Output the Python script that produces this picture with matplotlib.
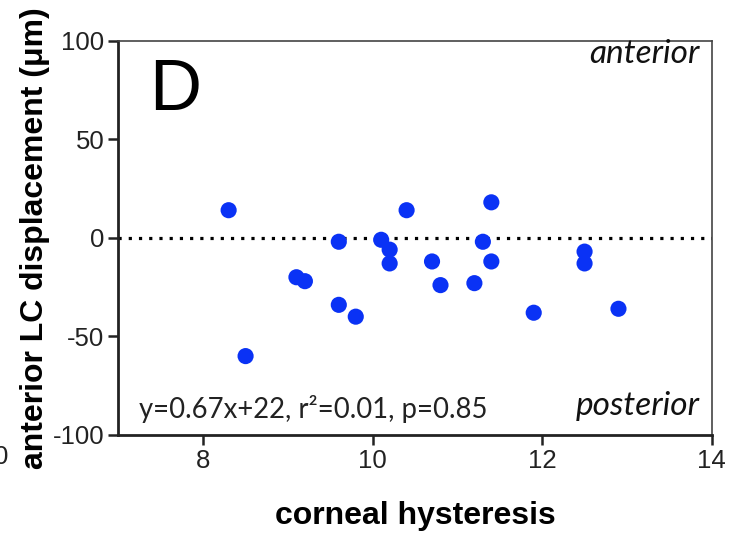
import numpy as np
import matplotlib.pyplot as plt

# corneal hysteresis vs anterior LC displacement
hysteresis = [8.3, 8.5, 9.1, 9.2, 9.6, 9.8, 9.6, 10.1, 10.2, 10.2, 10.4,
              10.7, 10.8, 11.2, 11.3, 11.4, 11.4, 11.9, 12.5, 12.5, 12.9]
displacement = [14, -60, -20, -22, -34, -40, -2, -1, -6, -13, 14,
                -12, -24, -23, -2, 18, -12, -38, -7, -13, -36]

x_ticks = [8, 10, 12, 14]
y_ticks = [-100, -50, 0, 50, 100]
stats_text = 'y=0.67x+22, r²=0.01, p=0.85'

plt.rcParams['font.family'] = ['Liberation Sans', 'DejaVu Sans']
plt.rcParams['axes.unicode_minus'] = False

fig = plt.figure(figsize=(7.46, 5.35), dpi=100)
ax = fig.add_axes([0.1588, 0.187, 0.7952, 0.737])

ax.axhline(0, color='black', linestyle=(0, (1, 2.2)), linewidth=2.3, zorder=1)
ax.scatter(hysteresis, displacement, s=135, color='#0a32f5', edgecolors='none', zorder=3)

ax.set_xlim(7, 14)
ax.set_ylim(-100, 100)
ax.set_xticks(x_ticks)
ax.set_yticks(y_ticks)
ax.tick_params(axis='both', direction='out', length=7, width=1.8, labelsize=18.5,
               color='#222222', labelcolor='#222222', pad=3)

for side in ['left', 'bottom']:
    ax.spines[side].set_linewidth(2)
    ax.spines[side].set_color('#222222')
for side in ['top', 'right']:
    ax.spines[side].set_linewidth(1.2)
    ax.spines[side].set_color('#444444')

ax.set_xlabel('corneal hysteresis', fontsize=23, fontweight='bold', labelpad=20)
ax.set_ylabel('anterior LC displacement (μm)', fontsize=23, fontweight='bold', labelpad=2)

# panel letter and direction annotations
ax.text(0.052, 0.955, 'D', transform=ax.transAxes, fontsize=52, ha='left', va='top')
ax.text(0.98, 0.943, 'anterior', transform=ax.transAxes, fontsize=24, style='italic',
        family='Lato', ha='right', va='baseline', color='#111111')
ax.text(0.98, 0.051, 'posterior', transform=ax.transAxes, fontsize=24, style='italic',
        family='Lato', ha='right', va='baseline', color='#111111')
ax.text(0.035, 0.043, stats_text, transform=ax.transAxes, fontsize=19.8,
        family='Lato', ha='left', va='baseline', color='#222222')

# tick label left over from the neighbouring panel
fig.text(-0.008, 0.146, '0', fontsize=18.5, ha='left', va='center', color='#222222')

fig.savefig('out.png', dpi=100)
